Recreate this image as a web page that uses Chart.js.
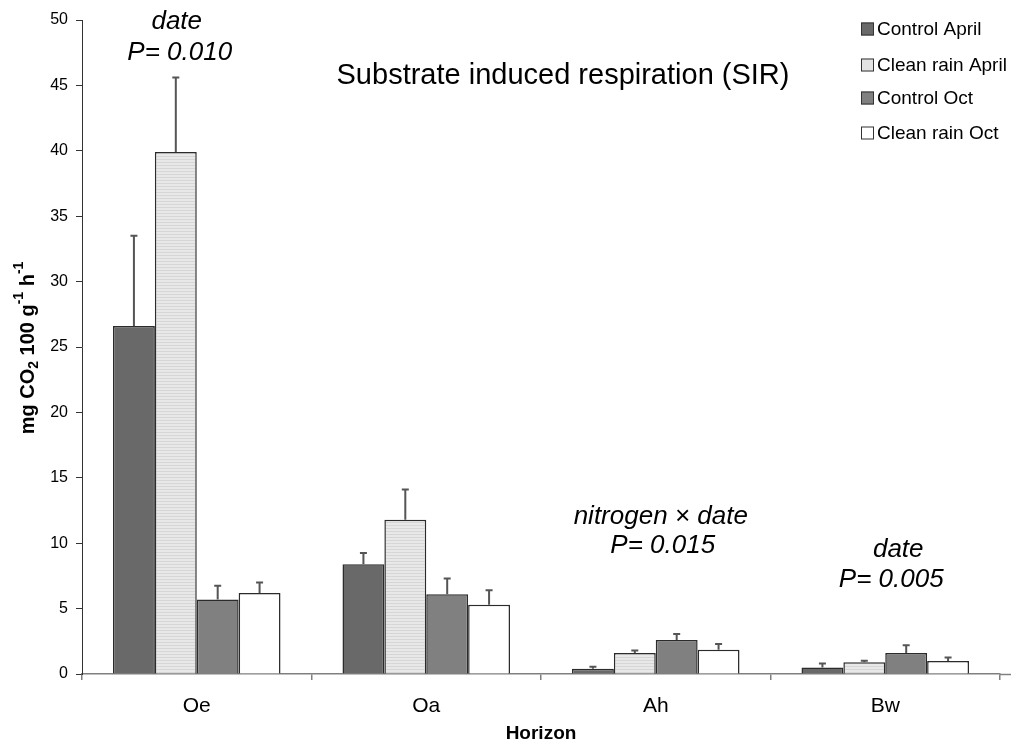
<!DOCTYPE html>
<html>
<head>
<meta charset="utf-8">
<script src="https://cdn.jsdelivr.net/npm/chart.js@4.4.0/dist/chart.umd.min.js"></script>
<style>
  html, body { margin: 0; padding: 0; background: #fff; }
  #wrap { width: 1011px; height: 749px; }
</style>
</head>
<body>
<div id="wrap"><canvas id="sir" width="1011" height="749"></canvas></div>
<script>
// horizons and treatment means (mg CO2 100 g-1 h-1), with upper error (SE)
const horizons = ["Oe", "Oa", "Ah", "Bw"];
const seriesNames = ["Control April", "Clean rain April", "Control Oct", "Clean rain Oct"];
const controlApril   = [26.6, 8.4, 0.4, 0.5];
const cleanApril     = [39.9, 11.8, 1.6, 0.9];
const controlOct     = [5.7, 6.1, 2.6, 1.6];
const cleanOct       = [6.2, 5.3, 1.85, 1.0];
const errControlApril = [6.9, 0.85, 0.15, 0.3];
const errCleanApril   = [5.7, 2.3, 0.2, 0.12];
const errControlOct   = [1.05, 1.2, 0.45, 0.6];
const errCleanOct     = [0.8, 1.1, 0.45, 0.26];
const yTicks = [0, 5, 10, 15, 20, 25, 30, 35, 40, 45, 50];

// statistics notes above the groups: text, x offset from group centre, y
const notes = [
  { cat: 0, lines: [["date", -20, 22], ["P= 0.010", -17, 53]] },
  { cat: 2, lines: [["nitrogen \u00d7 date", 5, 517], ["P= 0.015", 7, 546]] },
  { cat: 3, lines: [["date", 13, 550], ["P= 0.005", 6, 580]] }
];

const FONT = "'Liberation Sans', Arial, sans-serif";

// fine horizontal hatching for the clean rain April bars
function stripes() {
  const c = document.createElement("canvas");
  c.width = 4; c.height = 3;
  const g = c.getContext("2d");
  g.fillStyle = "#e8e8e8";
  g.fillRect(0, 0, 4, 3);
  g.fillStyle = "#d6d6d6";
  g.fillRect(0, 0, 4, 1);
  return g.createPattern(c, "repeat");
}

const fills = ["#696969", stripes(), "#808080", "#ffffff"];
const legendFills = ["#696969", "#e3e3e3", "#808080", "#ffffff"];
const values = [controlApril, cleanApril, controlOct, cleanOct];
const errors = [errControlApril, errCleanApril, errControlOct, errCleanOct];

const errorBars = {
  id: "errorBars",
  afterDatasetsDraw(chart) {
    const ctx = chart.ctx;
    const y = chart.scales.y;
    ctx.save();
    ctx.strokeStyle = "#555";
    ctx.lineWidth = 2;
    chart.data.datasets.forEach((ds, i) => {
      chart.getDatasetMeta(i).data.forEach((bar, j) => {
        const top = y.getPixelForValue(ds.data[j] + errors[i][j]);
        ctx.beginPath();
        ctx.moveTo(bar.x, bar.y);
        ctx.lineTo(bar.x, top);
        ctx.moveTo(bar.x - 3.5, top);
        ctx.lineTo(bar.x + 3.5, top);
        ctx.stroke();
      });
    });
    ctx.restore();
  }
};

const annotations = {
  id: "annotations",
  afterDraw(chart) {
    const ctx = chart.ctx;
    const x = chart.scales.x;
    ctx.save();
    ctx.fillStyle = "#000";
    ctx.textAlign = "center";
    ctx.textBaseline = "middle";

    // title
    ctx.font = "29px " + FONT;
    ctx.fillText("Substrate induced respiration (SIR)", 563, 76);

    // notes
    ctx.font = "italic 26px " + FONT;
    notes.forEach(n => {
      const cx = x.getPixelForValue(n.cat);
      n.lines.forEach(l => ctx.fillText(l[0], cx + l[1], l[2]));
    });

    // x axis edge continues past the last category
    ctx.strokeStyle = "#808080";
    ctx.lineWidth = 1.5;
    ctx.beginPath();
    ctx.moveTo(chart.chartArea.right, chart.chartArea.bottom + 0.5);
    ctx.lineTo(1011, chart.chartArea.bottom + 0.5);
    ctx.stroke();

    // legend
    ctx.font = "19px " + FONT;
    ctx.textAlign = "left";
    const rows = [29, 65, 98, 133];
    seriesNames.forEach((name, i) => {
      const ly = rows[i];
      ctx.fillStyle = legendFills[i];
      ctx.fillRect(861, ly - 6.5, 13, 13);
      ctx.strokeStyle = "#333";
      ctx.lineWidth = 1;
      ctx.strokeRect(861.5, ly - 6, 12, 12);
      ctx.fillStyle = "#000";
      ctx.fillText(name, 877, ly + 1);
    });

    // y axis title: mg CO2 100 g-1 h-1
    ctx.translate(28, 348);
    ctx.rotate(-Math.PI / 2);
    const parts = [
      ["mg CO", 0, 20], ["2", 6, 14], [" 100 g", 0, 20], ["-1", -9, 14], [" h", 0, 20], ["-1", -9, 14]
    ];
    let total = 0;
    parts.forEach(p => { ctx.font = "bold " + p[2] + "px " + FONT; total += ctx.measureText(p[0]).width; });
    let px = -total / 2;
    parts.forEach(p => {
      ctx.font = "bold " + p[2] + "px " + FONT;
      ctx.fillText(p[0], px, p[1]);
      px += ctx.measureText(p[0]).width;
    });
    ctx.restore();
  }
};

new Chart(document.getElementById("sir"), {
  type: "bar",
  data: {
    labels: horizons,
    datasets: seriesNames.map((name, i) => ({
      label: name,
      data: values[i],
      backgroundColor: fills[i],
      borderColor: "#2b2b2b",
      borderWidth: 1.5,
      categoryPercentage: 0.73,
      barPercentage: 1.0
    }))
  },
  options: {
    responsive: false,
    animation: false,
    layout: { padding: { top: 20, right: 11, left: 0, bottom: 0 } },
    plugins: {
      legend: { display: false },
      tooltip: { enabled: false }
    },
    scales: {
      x: {
        grid: { display: true, drawOnChartArea: false, offset: true, color: "#808080", tickLength: 6, lineWidth: 1.5 },
        border: { color: "#808080", width: 1.5 },
        ticks: { color: "#000", font: { family: FONT, size: 21 }, padding: 14 },
        title: { display: true, text: "Horizon", color: "#000", font: { family: FONT, size: 19, weight: "bold" }, padding: { top: 4 } },
        afterFit(s) { s.height = 75; }
      },
      y: {
        min: 0,
        max: 50,
        afterBuildTicks(s) { s.ticks = yTicks.map(v => ({ value: v })); },
        grid: { display: true, drawOnChartArea: false, color: "#333", tickLength: 6 },
        border: { color: "#333", width: 1 },
        ticks: { color: "#000", font: { family: FONT, size: 16 }, padding: 8 },
        afterFit(s) { s.width = 82; }
      }
    }
  },
  plugins: [errorBars, annotations]
});
</script>
</body>
</html>
